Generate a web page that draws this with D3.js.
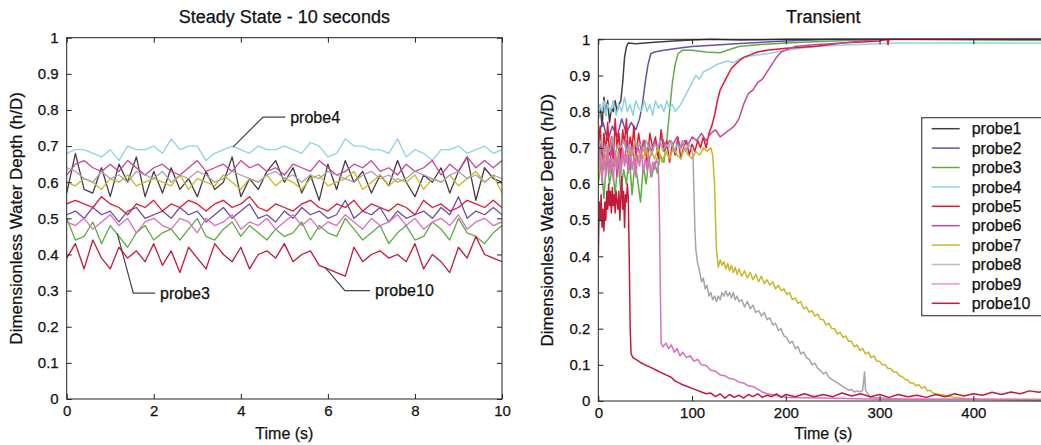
<!DOCTYPE html>
<html>
<head>
<meta charset="utf-8">
<script src="https://cdn.jsdelivr.net/npm/d3@7"></script>
<style>
  body { margin: 0; background: #fff; overflow: hidden; }
  svg { display: block; font-family: "Liberation Sans", Arial, sans-serif; }
  svg text { stroke: #111; stroke-width: 0.25px; }
</style>
</head>
<body>
<svg id="chart" width="1041" height="445"></svg>
<script>
const probeNames = ['probe1', 'probe2', 'probe3', 'probe4', 'probe5', 'probe6', 'probe7', 'probe8', 'probe9', 'probe10'];
const probeColors = ['#4a3a44', '#6a4ea8', '#5cae44', '#8fd3e5', '#e5182e', '#c6479a', '#c9b72a', '#a8a2aa', '#d870c0', '#c41a3a'];
const legendColors = ['#4a3a44', '#6a4ea8', '#5cae44', '#8fd3e5', '#e5182e', '#c6479a', '#c9b72a', '#bdbbc2', '#e596cc', '#c41a3a'];

// steady state, one sample every 0.2 s from 0 to 10 s
const steadyStep = 0.2;
const steady1 = [0.57,0.68,0.58,0.57,0.64,0.56,0.65,0.60,0.67,0.56,0.63,0.57,0.64,0.58,0.61,0.56,0.63,0.58,0.60,0.67,0.56,0.61,0.58,0.63,0.66,0.60,0.64,0.57,0.62,0.55,0.65,0.58,0.66,0.60,0.63,0.57,0.62,0.59,0.66,0.60,0.56,0.62,0.60,0.64,0.57,0.63,0.67,0.55,0.64,0.61,0.60];
const steady2 = [0.51,0.52,0.50,0.53,0.51,0.52,0.49,0.52,0.53,0.50,0.51,0.52,0.50,0.53,0.51,0.52,0.49,0.51,0.53,0.50,0.52,0.54,0.50,0.51,0.49,0.52,0.50,0.53,0.51,0.52,0.50,0.51,0.55,0.50,0.52,0.51,0.53,0.49,0.52,0.50,0.51,0.52,0.50,0.53,0.51,0.56,0.50,0.52,0.51,0.53,0.51];
const steady3 = [0.50,0.44,0.45,0.49,0.43,0.48,0.45,0.42,0.46,0.48,0.44,0.46,0.47,0.44,0.47,0.50,0.45,0.44,0.47,0.49,0.45,0.48,0.46,0.44,0.47,0.45,0.46,0.49,0.44,0.48,0.46,0.45,0.50,0.47,0.44,0.46,0.48,0.43,0.46,0.48,0.44,0.45,0.49,0.47,0.44,0.50,0.46,0.45,0.43,0.46,0.48];
const steady4 = [0.68,0.69,0.69,0.68,0.67,0.69,0.66,0.70,0.69,0.69,0.70,0.68,0.72,0.69,0.70,0.70,0.66,0.68,0.69,0.70,0.69,0.68,0.70,0.69,0.69,0.70,0.69,0.68,0.71,0.70,0.67,0.68,0.72,0.70,0.70,0.69,0.69,0.68,0.72,0.67,0.69,0.68,0.66,0.69,0.69,0.70,0.68,0.69,0.70,0.68,0.69];
const steady5 = [0.54,0.55,0.54,0.53,0.56,0.54,0.53,0.51,0.54,0.53,0.55,0.52,0.54,0.53,0.55,0.54,0.52,0.54,0.55,0.53,0.54,0.56,0.53,0.52,0.54,0.53,0.52,0.54,0.55,0.53,0.52,0.54,0.53,0.55,0.52,0.54,0.53,0.52,0.54,0.53,0.51,0.55,0.53,0.54,0.52,0.53,0.55,0.54,0.53,0.55,0.53];
const steady6 = [0.62,0.65,0.66,0.64,0.63,0.65,0.63,0.66,0.64,0.62,0.64,0.65,0.63,0.62,0.64,0.66,0.63,0.64,0.65,0.63,0.66,0.64,0.65,0.63,0.64,0.62,0.65,0.64,0.63,0.66,0.64,0.62,0.63,0.65,0.64,0.66,0.63,0.64,0.62,0.65,0.63,0.64,0.66,0.62,0.65,0.63,0.67,0.64,0.66,0.64,0.66];
const steady7 = [0.60,0.59,0.61,0.60,0.58,0.61,0.60,0.62,0.59,0.60,0.61,0.60,0.59,0.62,0.58,0.61,0.60,0.59,0.62,0.60,0.58,0.61,0.60,0.62,0.59,0.61,0.60,0.58,0.61,0.62,0.59,0.60,0.61,0.63,0.58,0.60,0.62,0.59,0.61,0.60,0.62,0.58,0.61,0.60,0.62,0.59,0.61,0.63,0.60,0.62,0.57];
const steady8 = [0.64,0.63,0.61,0.60,0.63,0.61,0.62,0.60,0.63,0.62,0.61,0.63,0.60,0.62,0.61,0.63,0.62,0.60,0.61,0.63,0.62,0.61,0.60,0.62,0.63,0.61,0.62,0.60,0.62,0.61,0.63,0.62,0.61,0.60,0.62,0.63,0.61,0.62,0.60,0.61,0.63,0.62,0.61,0.60,0.62,0.63,0.61,0.62,0.60,0.62,0.61];
const steady9 = [0.49,0.48,0.50,0.47,0.49,0.51,0.48,0.50,0.46,0.49,0.50,0.48,0.47,0.50,0.49,0.46,0.50,0.48,0.49,0.51,0.47,0.49,0.48,0.50,0.47,0.49,0.51,0.48,0.50,0.47,0.49,0.48,0.51,0.49,0.47,0.50,0.48,0.49,0.51,0.48,0.50,0.47,0.49,0.50,0.48,0.51,0.47,0.49,0.50,0.48,0.49];
const steady10 = [0.39,0.43,0.36,0.44,0.39,0.36,0.42,0.39,0.41,0.38,0.43,0.37,0.41,0.35,0.42,0.39,0.36,0.43,0.40,0.38,0.42,0.36,0.40,0.41,0.39,0.43,0.38,0.40,0.41,0.37,0.36,0.35,0.34,0.42,0.38,0.40,0.41,0.39,0.40,0.38,0.43,0.36,0.40,0.38,0.35,0.42,0.39,0.45,0.40,0.39,0.38];

// transient, [time (s), h/D]
const transient1 = [[0,0.78],[2,0.82],[4,0.76],[6,0.84],[8,0.79],[10,0.83],[12,0.77],[14,0.81],[16,0.80],[18,0.83],[20,0.80],[22,0.82],[24,0.83],[26,0.88],[28,0.95],[30,0.98],[32,0.99],[40,0.988],[50,0.99],[60,0.992],[80,0.995],[100,0.998],[120,1.0],[150,0.998],[200,1.0],[300,1.0],[480,1.0]];
const transient2 = [[0,0.74],[5,0.77],[10,0.72],[15,0.76],[20,0.73],[25,0.78],[30,0.74],[35,0.77],[40,0.75],[44,0.78],[47,0.82],[50,0.88],[53,0.93],[56,0.96],[60,0.965],[70,0.97],[85,0.975],[100,0.98],[130,0.985],[160,0.99],[200,0.995],[250,1.0],[480,1.0]];
const transient3 = [[0,0.60],[3,0.66],[6,0.56],[9,0.68],[12,0.60],[15,0.65],[18,0.57],[21,0.67],[24,0.58],[27,0.64],[30,0.60],[33,0.68],[36,0.57],[39,0.66],[42,0.61],[45,0.55],[48,0.65],[51,0.60],[54,0.67],[57,0.62],[60,0.66],[63,0.63],[66,0.68],[70,0.66],[73,0.72],[76,0.80],[79,0.88],[82,0.93],[85,0.96],[90,0.97],[100,0.97],[115,0.965],[130,0.963],[140,0.972],[150,0.98],[170,0.985],[200,0.99],[250,0.995],[300,1.0],[480,0.997]];
const transient4 = [[0,0.78],[2,0.82],[4,0.80],[6,0.83],[8,0.79],[10,0.82],[13,0.80],[16,0.83],[19,0.79],[22,0.82],[25,0.80],[28,0.84],[31,0.80],[34,0.82],[37,0.79],[40,0.83],[43,0.81],[46,0.80],[49,0.83],[52,0.80],[55,0.82],[58,0.79],[61,0.83],[64,0.81],[67,0.82],[70,0.80],[73,0.83],[76,0.81],[79,0.82],[82,0.80],[85,0.81],[88,0.82],[92,0.84],[96,0.86],[100,0.88],[104,0.90],[108,0.89],[112,0.91],[116,0.915],[120,0.92],[126,0.93],[132,0.935],[138,0.94],[144,0.935],[150,0.945],[156,0.95],[165,0.955],[180,0.96],[200,0.97],[230,0.98],[270,0.985],[320,0.99],[400,0.99],[480,0.99]];
const transient5 = [[0,0.70],[2,0.76],[4,0.66],[6,0.74],[8,0.69],[10,0.77],[12,0.68],[14,0.73],[16,0.66],[18,0.78],[20,0.70],[22,0.74],[24,0.67],[26,0.75],[28,0.71],[30,0.78],[32,0.68],[34,0.73],[36,0.70],[38,0.76],[40,0.67],[43,0.74],[46,0.69],[49,0.72],[52,0.66],[55,0.74],[58,0.70],[61,0.73],[64,0.67],[67,0.75],[70,0.69],[73,0.72],[76,0.66],[79,0.71],[82,0.68],[85,0.73],[88,0.67],[91,0.70],[94,0.72],[97,0.68],[100,0.71],[103,0.69],[106,0.72],[109,0.70],[112,0.73],[115,0.70],[118,0.74],[121,0.76],[124,0.79],[127,0.83],[130,0.86],[134,0.88],[138,0.90],[142,0.92],[146,0.93],[150,0.94],[155,0.95],[160,0.955],[170,0.965],[180,0.97],[200,0.975],[230,0.98],[260,0.99],[300,0.995],[308,1.0],[309,0.985],[310,1.0],[350,1.0],[480,1.0]];
const transient6 = [[0,0.66],[2,0.72],[4,0.62],[6,0.70],[8,0.64],[10,0.69],[12,0.63],[14,0.71],[16,0.65],[18,0.68],[20,0.62],[22,0.70],[24,0.64],[26,0.69],[28,0.66],[30,0.72],[33,0.64],[36,0.70],[39,0.66],[42,0.71],[45,0.67],[48,0.72],[51,0.68],[54,0.71],[57,0.69],[60,0.72],[64,0.70],[68,0.73],[72,0.70],[76,0.72],[80,0.71],[84,0.73],[88,0.70],[92,0.72],[96,0.71],[100,0.73],[105,0.72],[110,0.74],[115,0.72],[120,0.74],[125,0.75],[130,0.73],[135,0.74],[140,0.75],[145,0.76],[150,0.78],[155,0.82],[160,0.85],[165,0.86],[170,0.88],[175,0.89],[180,0.91],[185,0.93],[190,0.95],[195,0.965],[200,0.97],[210,0.98],[230,0.985],[260,0.99],[300,1.0],[480,1.0]];
const transient7 = [[0,0.62],[3,0.68],[6,0.64],[9,0.70],[12,0.63],[15,0.67],[18,0.65],[21,0.69],[24,0.64],[27,0.68],[30,0.66],[33,0.70],[36,0.65],[39,0.68],[42,0.66],[45,0.69],[48,0.67],[51,0.70],[54,0.66],[57,0.69],[60,0.67],[64,0.70],[68,0.66],[72,0.69],[76,0.67],[80,0.70],[84,0.68],[88,0.67],[92,0.70],[96,0.68],[100,0.67],[104,0.69],[108,0.68],[112,0.70],[116,0.69],[120,0.70],[122,0.68],[124,0.60],[125,0.50],[126,0.42],[128,0.37],[130,0.39],[132,0.375],[134,0.385],[136,0.365],[138,0.38],[140,0.36],[142,0.375],[144,0.355],[146,0.37],[148,0.35],[150,0.365],[153,0.345],[156,0.36],[159,0.34],[162,0.355],[165,0.335],[168,0.35],[171,0.33],[174,0.345],[177,0.325],[180,0.335],[183,0.32],[186,0.33],[189,0.31],[192,0.32],[195,0.305],[198,0.31],[201,0.295],[204,0.30],[207,0.28],[210,0.285],[213,0.27],[216,0.275],[219,0.255],[222,0.26],[225,0.245],[228,0.25],[231,0.235],[234,0.24],[237,0.225],[240,0.225],[243,0.21],[246,0.215],[249,0.20],[252,0.20],[255,0.185],[258,0.19],[261,0.175],[264,0.18],[267,0.165],[270,0.165],[273,0.15],[276,0.155],[279,0.14],[282,0.145],[285,0.13],[288,0.135],[291,0.12],[294,0.125],[297,0.11],[300,0.11],[303,0.10],[306,0.10],[309,0.09],[312,0.09],[315,0.08],[318,0.08],[321,0.07],[324,0.068],[327,0.06],[330,0.058],[333,0.05],[336,0.05],[339,0.042],[342,0.045],[345,0.035],[348,0.04],[351,0.028],[354,0.03],[357,0.022],[360,0.02],[370,0.015],[380,0.01],[400,0.005],[440,0.005],[480,0.005]];
const transient8 = [[0,0.70],[3,0.72],[6,0.68],[9,0.71],[12,0.69],[15,0.73],[18,0.68],[21,0.71],[24,0.70],[27,0.72],[30,0.69],[33,0.71],[36,0.68],[39,0.72],[42,0.70],[45,0.71],[48,0.69],[51,0.72],[54,0.70],[57,0.68],[60,0.71],[63,0.70],[66,0.72],[69,0.69],[72,0.71],[75,0.70],[78,0.72],[81,0.69],[84,0.71],[87,0.70],[90,0.72],[93,0.69],[96,0.71],[99,0.70],[101,0.68],[102,0.58],[103,0.48],[104,0.42],[106,0.38],[108,0.36],[110,0.33],[112,0.34],[114,0.31],[116,0.32],[118,0.29],[120,0.30],[122,0.28],[124,0.29],[126,0.275],[128,0.29],[130,0.28],[132,0.30],[134,0.29],[136,0.305],[138,0.29],[140,0.30],[142,0.285],[144,0.30],[146,0.28],[148,0.29],[150,0.275],[153,0.28],[156,0.26],[159,0.275],[162,0.255],[165,0.265],[168,0.245],[171,0.25],[174,0.235],[177,0.245],[180,0.225],[183,0.23],[186,0.21],[189,0.215],[192,0.195],[195,0.20],[198,0.18],[201,0.175],[204,0.16],[207,0.165],[210,0.145],[213,0.15],[216,0.13],[219,0.135],[222,0.12],[225,0.115],[228,0.10],[231,0.105],[234,0.09],[237,0.085],[240,0.075],[243,0.08],[246,0.065],[249,0.06],[252,0.055],[255,0.05],[258,0.045],[261,0.04],[264,0.035],[267,0.03],[270,0.032],[273,0.025],[276,0.028],[279,0.025],[282,0.03],[284,0.08],[285,0.03],[290,0.01],[330,0.005],[400,0.005],[480,0.0]];
const transient9 = [[0,0.64],[2,0.70],[4,0.60],[6,0.68],[8,0.62],[10,0.70],[12,0.63],[14,0.67],[16,0.61],[18,0.69],[20,0.64],[22,0.68],[24,0.62],[26,0.70],[28,0.65],[30,0.68],[32,0.63],[34,0.69],[36,0.64],[38,0.67],[40,0.62],[42,0.68],[44,0.65],[46,0.69],[48,0.63],[50,0.67],[52,0.64],[54,0.68],[56,0.62],[58,0.66],[60,0.64],[62,0.67],[64,0.65],[65,0.55],[66,0.35],[67,0.16],[69,0.15],[72,0.16],[75,0.145],[78,0.155],[81,0.135],[84,0.145],[87,0.125],[90,0.135],[94,0.12],[98,0.125],[102,0.11],[106,0.115],[110,0.10],[115,0.098],[120,0.085],[125,0.082],[130,0.072],[135,0.07],[140,0.062],[145,0.06],[150,0.052],[155,0.05],[160,0.042],[165,0.04],[170,0.033],[175,0.025],[180,0.02],[190,0.015],[200,0.01],[240,0.008],[300,0.005],[400,0.005],[480,0.003]];
const transient10 = [[0,0.40],[1,0.55],[2,0.50],[3,0.57],[4,0.48],[5,0.53],[6,0.47],[7,0.55],[8,0.50],[9,0.58],[10,0.53],[11,0.60],[12,0.54],[13,0.58],[14,0.52],[15,0.59],[16,0.54],[17,0.57],[18,0.52],[19,0.58],[20,0.55],[21,0.53],[22,0.58],[23,0.50],[24,0.56],[25,0.62],[26,0.53],[27,0.58],[28,0.48],[29,0.57],[30,0.55],[31,0.60],[32,0.56],[33,0.40],[34,0.20],[35,0.13],[37,0.12],[40,0.115],[43,0.11],[46,0.105],[50,0.10],[54,0.095],[58,0.09],[62,0.085],[66,0.08],[70,0.075],[74,0.07],[78,0.065],[82,0.055],[86,0.05],[90,0.045],[95,0.04],[100,0.035],[105,0.03],[110,0.025],[115,0.02],[120,0.022],[125,0.012],[130,0.02],[135,0.008],[140,0.018],[145,0.01],[150,0.016],[155,0.008],[160,0.018],[165,0.012],[170,0.02],[175,0.01],[180,0.016],[185,0.012],[190,0.02],[195,0.01],[200,0.018],[210,0.012],[220,0.02],[230,0.012],[240,0.018],[250,0.012],[260,0.022],[270,0.014],[280,0.02],[290,0.012],[300,0.018],[310,0.01],[320,0.018],[330,0.012],[340,0.016],[350,0.01],[360,0.018],[370,0.012],[380,0.02],[390,0.014],[400,0.02],[410,0.016],[420,0.024],[430,0.018],[440,0.025],[450,0.02],[460,0.028],[470,0.024],[480,0.03]];

const steadyValues = [steady1, steady2, steady3, steady4, steady5, steady6, steady7, steady8, steady9, steady10];
const transientValues = [transient1, transient2, transient3, transient4, transient5, transient6, transient7, transient8, transient9, transient10];

// callout labels on the steady state panel: leader line points in data units
const steadyCallouts = [
  { name: 'probe4', pts: [[3.82, 0.697], [4.51, 0.78], [5.02, 0.78]] },
  { name: 'probe3', pts: [[1.16, 0.459], [1.53, 0.293], [2.03, 0.293]] },
  { name: 'probe10', pts: [[5.93, 0.365], [6.39, 0.30], [6.97, 0.30]] }
];

const svg = d3.select('#chart');
const yFmt = d3.format('~g');

function drawPanel(p) {
  const g = svg.append('g');
  const x = d3.scaleLinear().domain(p.xDomain).range([p.left, p.right]);
  const y = d3.scaleLinear().domain([0, 1]).range([p.bottom, p.top]);

  const clipId = 'clip-' + p.id;
  svg.append('clipPath').attr('id', clipId)
    .append('rect')
    .attr('x', p.left).attr('y', p.top - 2)
    .attr('width', p.right - p.left).attr('height', p.bottom - p.top + 4);

  const line = d3.line().x(d => x(d[0])).y(d => y(d[1]));
  g.append('g').attr('clip-path', `url(#${clipId})`)
    .selectAll('path')
    .data(p.series)
    .join('path')
    .attr('d', line)
    .attr('fill', 'none')
    .attr('stroke', (d, i) => probeColors[i])
    .attr('stroke-width', p.lineWidth)
    .attr('stroke-linejoin', 'round');

  // MATLAB style: ticks pointing inward on all four sides
  const axes = [
    d3.axisBottom(x).ticks(5).tickSizeInner(-5).tickSizeOuter(0).tickPadding(6),
    d3.axisTop(x).ticks(5).tickSizeInner(-5).tickSizeOuter(0).tickFormat(''),
    d3.axisLeft(y).ticks(10).tickFormat(yFmt).tickSizeInner(-5).tickSizeOuter(0).tickPadding(8),
    d3.axisRight(y).ticks(10).tickSizeInner(-5).tickSizeOuter(0).tickFormat('')
  ];
  const shifts = [`0,${p.bottom}`, `0,${p.top}`, `${p.left},0`, `${p.right},0`];
  axes.forEach((a, i) => {
    const ag = g.append('g').attr('transform', `translate(${shifts[i]})`).call(a);
    ag.select('.domain').remove();
    ag.selectAll('line').attr('stroke', '#222');
    ag.selectAll('text').attr('font-size', 15).attr('fill', '#111').attr('font-family', null);
  });
  g.append('rect')
    .attr('x', p.left).attr('y', p.top)
    .attr('width', p.right - p.left).attr('height', p.bottom - p.top)
    .attr('fill', 'none').attr('stroke', '#222').attr('stroke-width', 1);

  const cx = (p.left + p.right) / 2;
  g.append('text').attr('x', cx).attr('y', 23)
    .attr('text-anchor', 'middle').attr('font-size', 18).attr('fill', '#111')
    .text(p.title);
  g.append('text').attr('x', cx).attr('y', 439)
    .attr('text-anchor', 'middle').attr('font-size', 16).attr('fill', '#111')
    .text('Time (s)');
  g.append('text')
    .attr('transform', `translate(${p.left - 45},${(p.top + p.bottom) / 2}) rotate(-90)`)
    .attr('text-anchor', 'middle').attr('font-size', 17).attr('fill', '#111')
    .text('Dimensionless Water Depth (h/D)');

  return { g, x, y };
}

// left: steady state
const left = drawPanel({
  id: 'steady', title: 'Steady State - 10 seconds',
  left: 66.7, right: 502, top: 37.7, bottom: 399,
  xDomain: [0, 10], lineWidth: 1.3,
  series: steadyValues.map(vals => vals.map((v, i) => [i * steadyStep, v]))
});

const callLine = d3.line().x(d => left.x(d[0])).y(d => left.y(d[1]));
steadyCallouts.forEach(c => {
  left.g.append('path').attr('d', callLine(c.pts))
    .attr('fill', 'none').attr('stroke', '#4a4046').attr('stroke-width', 1.2);
  const end = c.pts[c.pts.length - 1];
  left.g.append('text')
    .attr('x', left.x(end[0]) + 5).attr('y', left.y(end[1]))
    .attr('dy', '0.36em').attr('font-size', 16).attr('fill', '#111')
    .text(c.name);
});

// right: transient
const right = drawPanel({
  id: 'transient', title: 'Transient',
  left: 598.3, right: 1048.3, top: 39.3, bottom: 401,
  xDomain: [0, 480], lineWidth: 1.5,
  series: transientValues
});

const legend = right.g.append('g').attr('transform', 'translate(921.7,117.7)');
legend.append('rect')
  .attr('width', 140).attr('height', 198)
  .attr('fill', '#fff').attr('stroke', '#4a4046').attr('stroke-width', 1.2);
const rows = legend.selectAll('g.row')
  .data(probeNames)
  .join('g')
  .attr('class', 'row')
  .attr('transform', (d, i) => `translate(0,${11 + i * 19.4})`);
rows.append('line')
  .attr('x1', 10).attr('x2', 38)
  .attr('stroke', (d, i) => legendColors[i]).attr('stroke-width', 1.5);
rows.append('text')
  .attr('x', 50).attr('dy', '0.36em')
  .attr('font-size', 16).attr('fill', '#111')
  .text(d => d);
</script>
</body>
</html>
